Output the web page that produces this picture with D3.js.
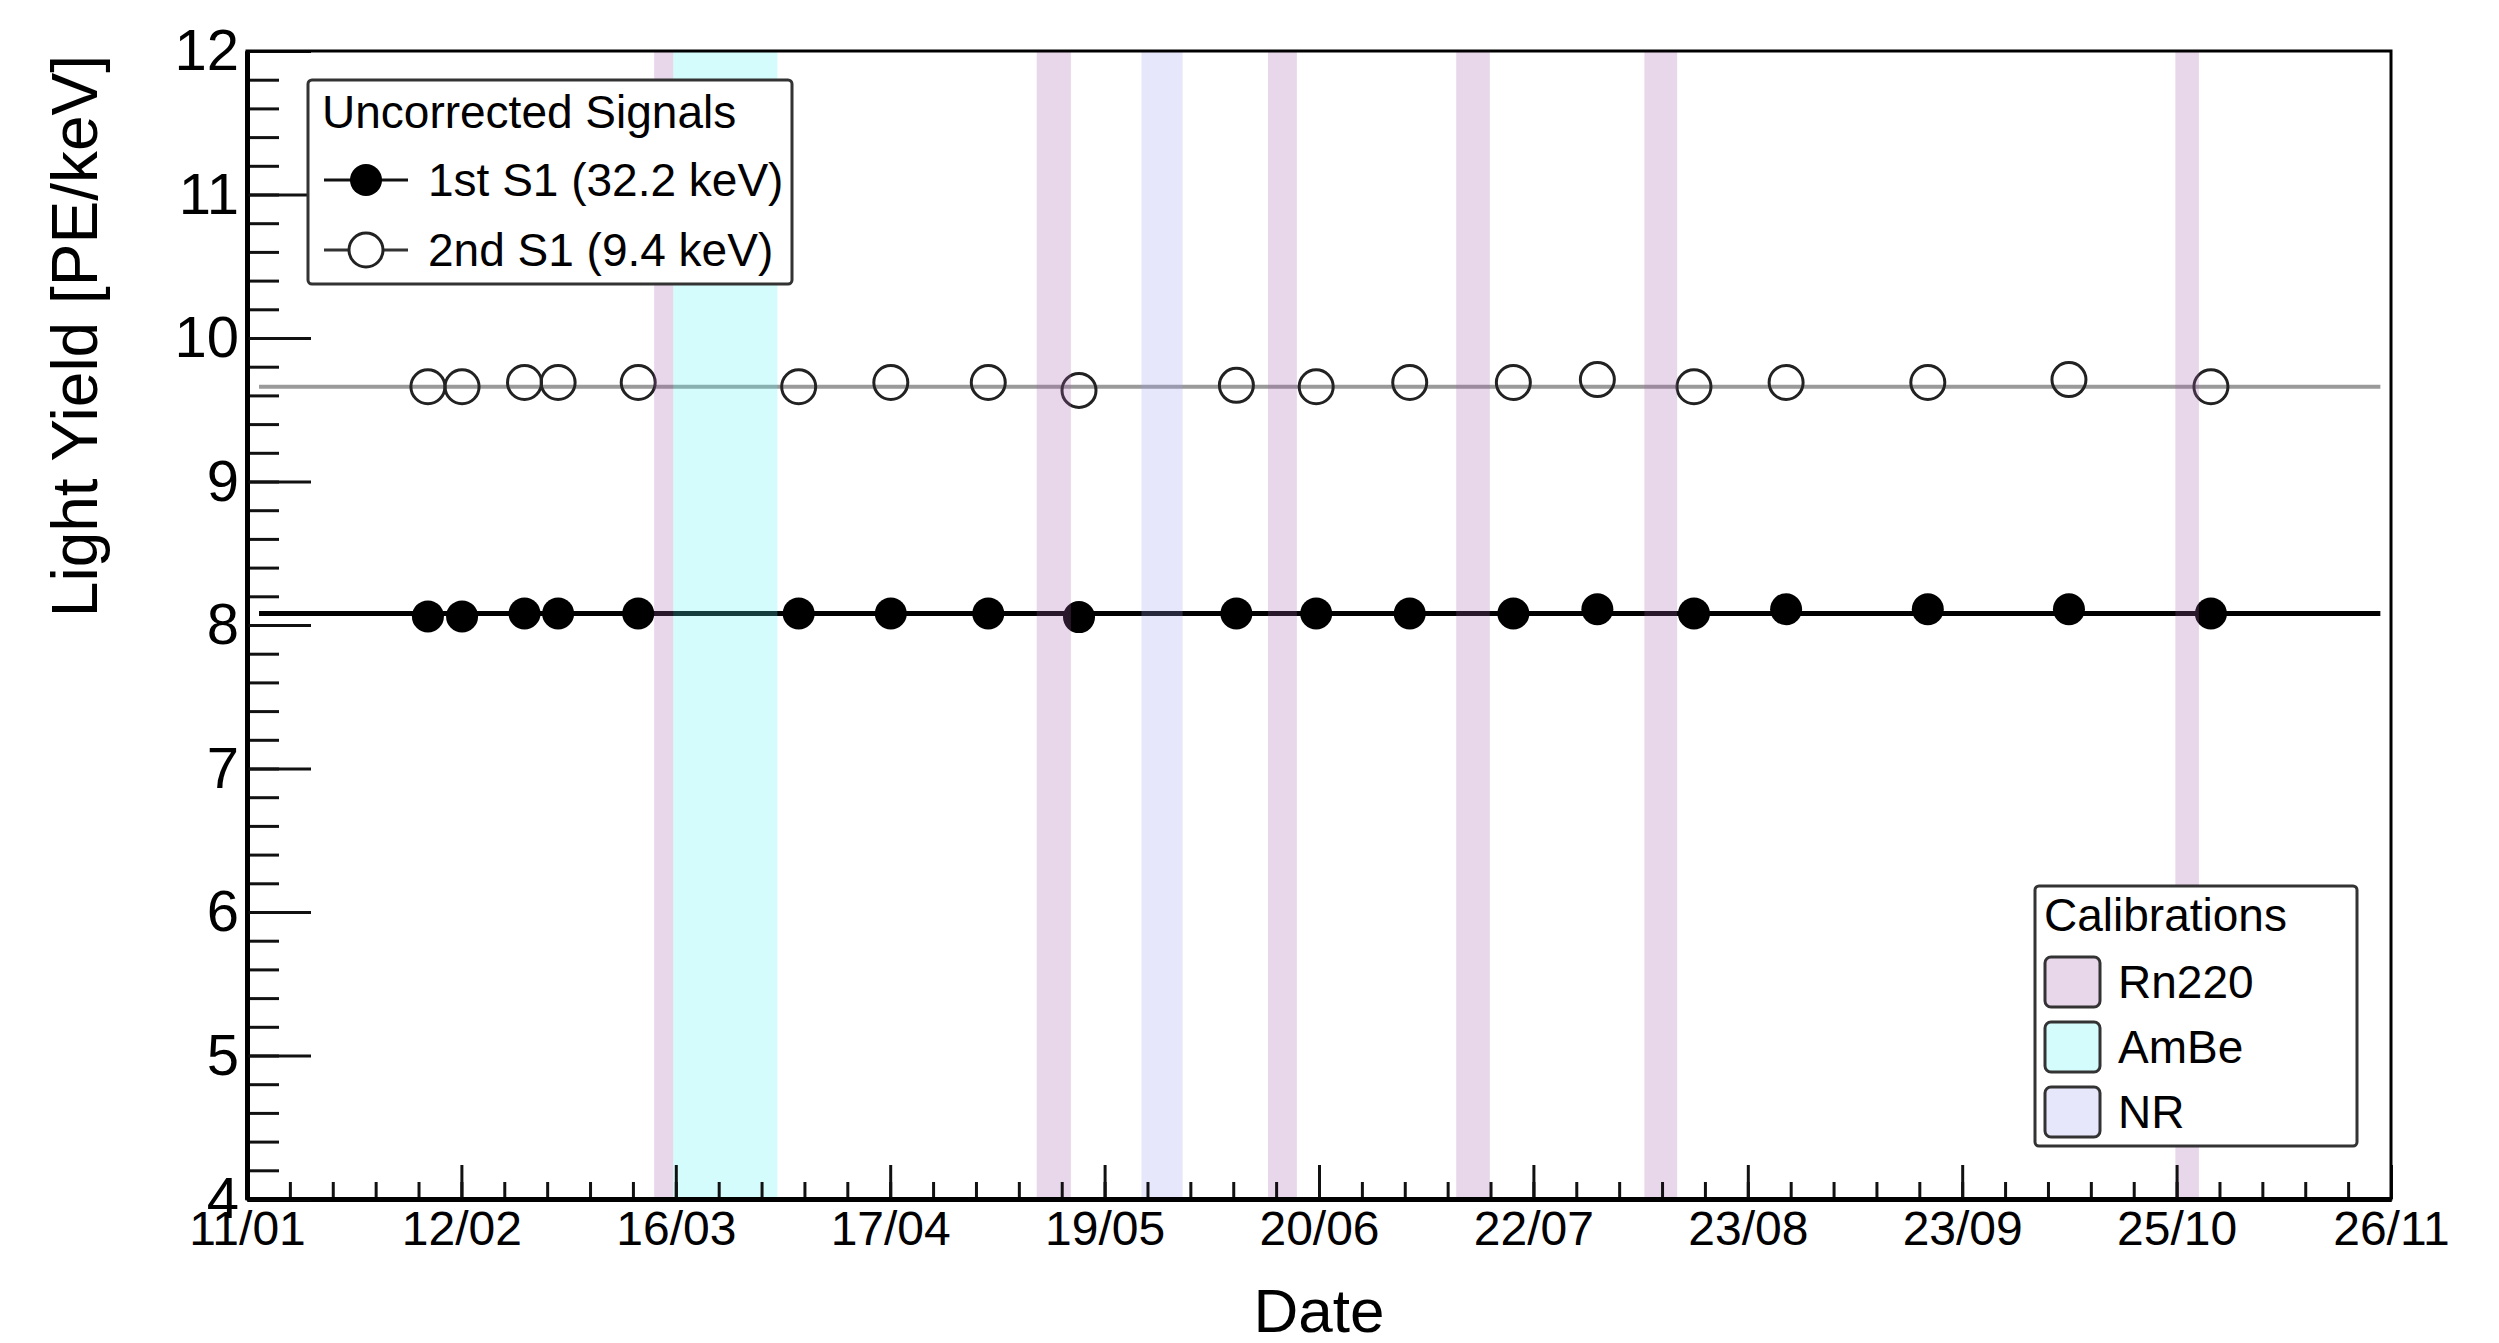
<!DOCTYPE html>
<html>
<head>
<meta charset="utf-8">
<script src="https://cdn.jsdelivr.net/npm/d3@7"></script>
<style>
body { margin: 0; background: #fff; }
svg text { font-family: "Liberation Sans", Arial, Helvetica, sans-serif; fill: #000; }
</style>
</head>
<body>
<script>
// x axis labels (dd/mm), evenly spaced over the date range
var tickLabels = ["11/01","12/02","16/03","17/04","19/05","20/06","22/07","23/08","23/09","25/10","26/11"];
var dateRange = ["11/01 00:00", "26/11 00:00"];

// measurement dates
var runDates = ["06/02 22:00","12/02 00:00","21/02 07:00","26/02 07:00","10/03 05:00",
                "03/04 02:00","16/04 19:00","01/05 07:00","14/05 19:00","07/06 05:00",
                "19/06 02:00","03/07 00:00","18/07 10:00","30/07 22:00","14/08 07:00",
                "28/08 00:00","18/09 02:00","09/10 02:00","30/10 05:00"];
// 1st S1 (32.2 keV) light yield
var firstS1 = [8.06,8.06,8.08,8.08,8.08, 8.08,8.08,8.08,8.055,8.08,
               8.08,8.08,8.08,8.11,8.08, 8.11,8.11,8.11,8.08];
// 2nd S1 (9.4 keV) light yield
var secondS1 = [9.66,9.66,9.69,9.69,9.69, 9.66,9.69,9.69,9.635,9.67,
                9.66,9.69,9.69,9.71,9.66, 9.69,9.69,9.71,9.66];

// constant fits
var fitFirst = 8.08;
var fitSecond = 9.66;
var fitRange = ["12/01 19:00", "24/11 10:00"];

// calibration periods
var calibNames = ["Rn220","AmBe","NR"];
var calibColors = ["#a35bab","#57f3f3","#9f9fef"];
var bandType  = ["Rn220","AmBe","Rn220","NR","Rn220","Rn220","Rn220","Rn220"];
var bandStart = ["12/03 14:00","15/03 10:00","08/05 12:00","24/05 02:00","11/06 22:00","09/07 22:00","06/08 22:00","24/10 22:00"];
var bandEnd   = ["15/03 10:00","30/03 22:00","13/05 14:00","30/05 05:00","16/06 05:00","14/07 22:00","11/08 19:00","28/10 10:00"];

var parse = d3.utcParse("%d/%m %H:%M");

var W = 2499, H = 1343;
var plotL = 247, plotR = 2391, plotT = 51, plotB = 1199;

var svg = d3.select("body").append("svg")
  .attr("width", W).attr("height", H);

var t0 = parse(dateRange[0]), t1 = parse(dateRange[1]);
var x = d3.scaleUtc().domain([t0, t1]).range([plotL, plotR]);
var y = d3.scaleLinear().domain([4, 12]).range([plotB, plotT]);
var color = d3.scaleOrdinal().domain(calibNames).range(calibColors);

var points = runDates.map(function(d, i) {
  return { date: parse(d), a: firstS1[i], b: secondS1[i] };
});

// fit lines
var fitLine = d3.line().x(function(d){ return x(d[0]); }).y(function(d){ return y(d[1]); });
var f0 = parse(fitRange[0]), f1 = parse(fitRange[1]);
svg.append("path").attr("d", fitLine([[f0, fitSecond],[f1, fitSecond]]))
  .attr("stroke", "#9a9a9a").attr("stroke-width", 4).attr("fill", "none");
svg.append("path").attr("d", fitLine([[f0, fitFirst],[f1, fitFirst]]))
  .attr("stroke", "#000").attr("stroke-width", 5).attr("fill", "none");

// markers
svg.append("g").selectAll("circle").data(points).enter().append("circle")
  .attr("cx", function(d){ return x(d.date); })
  .attr("cy", function(d){ return y(d.b); })
  .attr("r", 17)
  .attr("fill", "none").attr("stroke", "#222").attr("stroke-width", 3);
svg.append("g").selectAll("circle").data(points).enter().append("circle")
  .attr("cx", function(d){ return x(d.date); })
  .attr("cy", function(d){ return y(d.a); })
  .attr("r", 16)
  .attr("fill", "#000");

// calibration bands
var bands = bandType.map(function(t, i) {
  return { type: t, s: parse(bandStart[i]), e: parse(bandEnd[i]) };
});
svg.append("g").selectAll("rect").data(bands).enter().append("rect")
  .attr("x", function(d){ return x(d.s); })
  .attr("width", function(d){ return x(d.e) - x(d.s); })
  .attr("y", y(12)).attr("height", y(4) - y(12))
  .attr("fill", function(d){ return color(d.type); })
  .attr("fill-opacity", 0.25);

// axes
var majorX = d3.range(11).map(function(i){ return new Date(+t0 + i * (t1 - t0) / 10); });
var minorX = d3.range(51).map(function(i){ return new Date(+t0 + i * (t1 - t0) / 50); });

var xMinor = svg.append("g").attr("transform", "translate(0," + plotB + ")")
  .call(d3.axisBottom(x).tickValues(minorX).tickSize(-17).tickSizeOuter(0).tickFormat(""));
var xMajor = svg.append("g").attr("transform", "translate(0," + plotB + ")")
  .call(d3.axisBottom(x).tickValues(majorX).tickSize(-34).tickSizeOuter(0).tickPadding(12)
    .tickFormat(function(d, i){ return tickLabels[i]; }));

var yMinor = svg.append("g").attr("transform", "translate(" + plotL + ",0)")
  .call(d3.axisLeft(y).tickValues(d3.range(4, 12.001, 0.2)).tickSize(-32).tickSizeOuter(0).tickFormat(""));
var yMajor = svg.append("g").attr("transform", "translate(" + plotL + ",0)")
  .call(d3.axisLeft(y).tickValues([4,5,6,7,8,9,10,11,12]).tickSize(-64).tickSizeOuter(0).tickPadding(8)
    .tickFormat(d3.format("d")));

[xMinor, xMajor, yMinor, yMajor].forEach(function(g) {
  g.selectAll(".tick line").attr("stroke", "#111").attr("stroke-width", 3);
  g.select(".domain").attr("stroke", "#000").attr("stroke-width", 5);
});
xMajor.selectAll("text").attr("font-size", 48).attr("fill", "#000");
yMajor.selectAll("text").attr("font-size", 58).attr("fill", "#000");

// frame
svg.append("rect").attr("x", plotL).attr("y", plotT)
  .attr("width", plotR - plotL).attr("height", plotB - plotT)
  .attr("fill", "none").attr("stroke", "#000").attr("stroke-width", 3);

// axis titles
svg.append("text").attr("transform", "translate(97," + (plotT + 4) + ") rotate(-90)")
  .attr("text-anchor", "end").attr("font-size", 64).text("Light Yield [PE/keV]");
svg.append("text").attr("x", (plotL + plotR) / 2).attr("y", 1332)
  .attr("text-anchor", "middle").attr("font-size", 62).text("Date");

// legend: signals
var leg1 = svg.append("g");
leg1.append("rect").attr("x", 308).attr("y", 80).attr("width", 484).attr("height", 204)
  .attr("rx", 4).attr("fill", "#fff").attr("stroke", "#333").attr("stroke-width", 3);
leg1.append("text").attr("x", 322).attr("y", 128).attr("font-size", 46).text("Uncorrected Signals");
var sigEntries = [
  { label: "1st S1 (32.2 keV)", cy: 180, filled: true },
  { label: "2nd S1 (9.4 keV)", cy: 250, filled: false }
];
sigEntries.forEach(function(e) {
  leg1.append("line").attr("x1", 324).attr("x2", 408).attr("y1", e.cy).attr("y2", e.cy)
    .attr("stroke", e.filled ? "#111" : "#333").attr("stroke-width", 3);
  leg1.append("circle").attr("cx", 366).attr("cy", e.cy).attr("r", e.filled ? 16 : 17)
    .attr("fill", e.filled ? "#000" : "#fff")
    .attr("stroke", e.filled ? "none" : "#222").attr("stroke-width", 3);
  leg1.append("text").attr("x", 428).attr("y", e.cy + 16).attr("font-size", 46).text(e.label);
});

// legend: calibrations
var leg2 = svg.append("g");
leg2.append("rect").attr("x", 2035).attr("y", 886).attr("width", 322).attr("height", 260)
  .attr("rx", 4).attr("fill", "#fff").attr("stroke", "#333").attr("stroke-width", 3);
leg2.append("text").attr("x", 2044).attr("y", 931).attr("font-size", 46).text("Calibrations");
calibNames.forEach(function(n, i) {
  var cy = 982 + i * 65;
  leg2.append("rect").attr("x", 2045).attr("y", cy - 25).attr("width", 55).attr("height", 50)
    .attr("rx", 6).attr("fill", color(n)).attr("fill-opacity", 0.25)
    .attr("stroke", "#333").attr("stroke-width", 3);
  leg2.append("text").attr("x", 2118).attr("y", cy + 16).attr("font-size", 46).text(n);
});
</script>
</body>
</html>
